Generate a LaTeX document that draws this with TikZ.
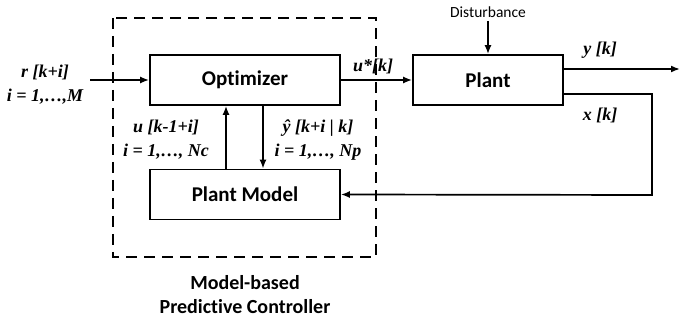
\documentclass[tikz,border=0pt]{standalone}
\usepackage{fontspec}
\setmainfont{Liberation Serif}
\newfontfamily\blockfont[Ligatures=NoCommon]{Carlito}
\usetikzlibrary{arrows.meta}

\begin{document}
\begin{tikzpicture}[x=1pt,y=-1pt]
  \tikzstyle{block}=[draw, line width=1.7pt, minimum width=190pt, minimum height=50pt,
    font=\blockfont\bfseries\fontsize{21}{24}\selectfont]
  \tikzstyle{sig}=[font=\bfseries\itshape\fontsize{18}{24}\selectfont, align=center, inner sep=0pt]
  \tikzstyle{wire}=[line width=1.7pt, -{Latex[length=9pt,width=7pt]}]
  \useasboundingbox (0,0) rectangle (681,320);
  % controller frame
  \draw [line width=1.6pt, dash pattern=on 11pt off 7pt] (113,18) rectangle (376,257);
  \node [font=\blockfont\bfseries\fontsize{20}{24}\selectfont, align=center] (mpc) at (245,295)
    {Model-based\\Predictive Controller};
  % blocks
  \node [block] (opt) at (245,80) {Optimizer};
  \node [block] (model) at (245,194.5) {Plant Model};
  \node [block, minimum width=150pt] (plant) at (488,80) {Plant};
  % signals
  \coordinate (rin) at (90,80);
  \coordinate (yout) at (680,69);
  \coordinate (xc) at (652,195);
  \node [font=\blockfont\fontsize{15.5}{18}\selectfont] (dist) at (488,12) {Disturbance};
  \node [sig] (rlab) at (45,85) {r [k+i]\\i = 1,\dots,M};
  \node [sig] (ulab) at (166,140) {u [k-1+i]\\i = 1,\dots, Nc};
  \node [sig] (ylab) at (318,140) {ŷ [k+i | k]\\i = 1,\dots, Np};
  \node [sig] (ustar) at (373,66) {u*[k]};
  \node [sig] (yk) at (600,50) {y [k]};
  \node [sig] (xk) at (600,115) {x [k]};
  \draw [wire] (rin) -- (opt.west);
  \draw [wire] (opt.east) -- (plant.west);
  \draw [wire] (dist.south) -- (plant.north);
  \draw [wire] ([yshift=11pt]plant.east) -- (yout);
  \draw [wire] ([yshift=-14pt]plant.east) -| (xc) -- (model.east);
  \draw [wire] ([xshift=-19pt]model.north) -- ([xshift=-19pt]opt.south);
  \draw [wire] ([xshift=18pt]opt.south) -- ([xshift=18pt]model.north);
\end{tikzpicture}
\end{document}
